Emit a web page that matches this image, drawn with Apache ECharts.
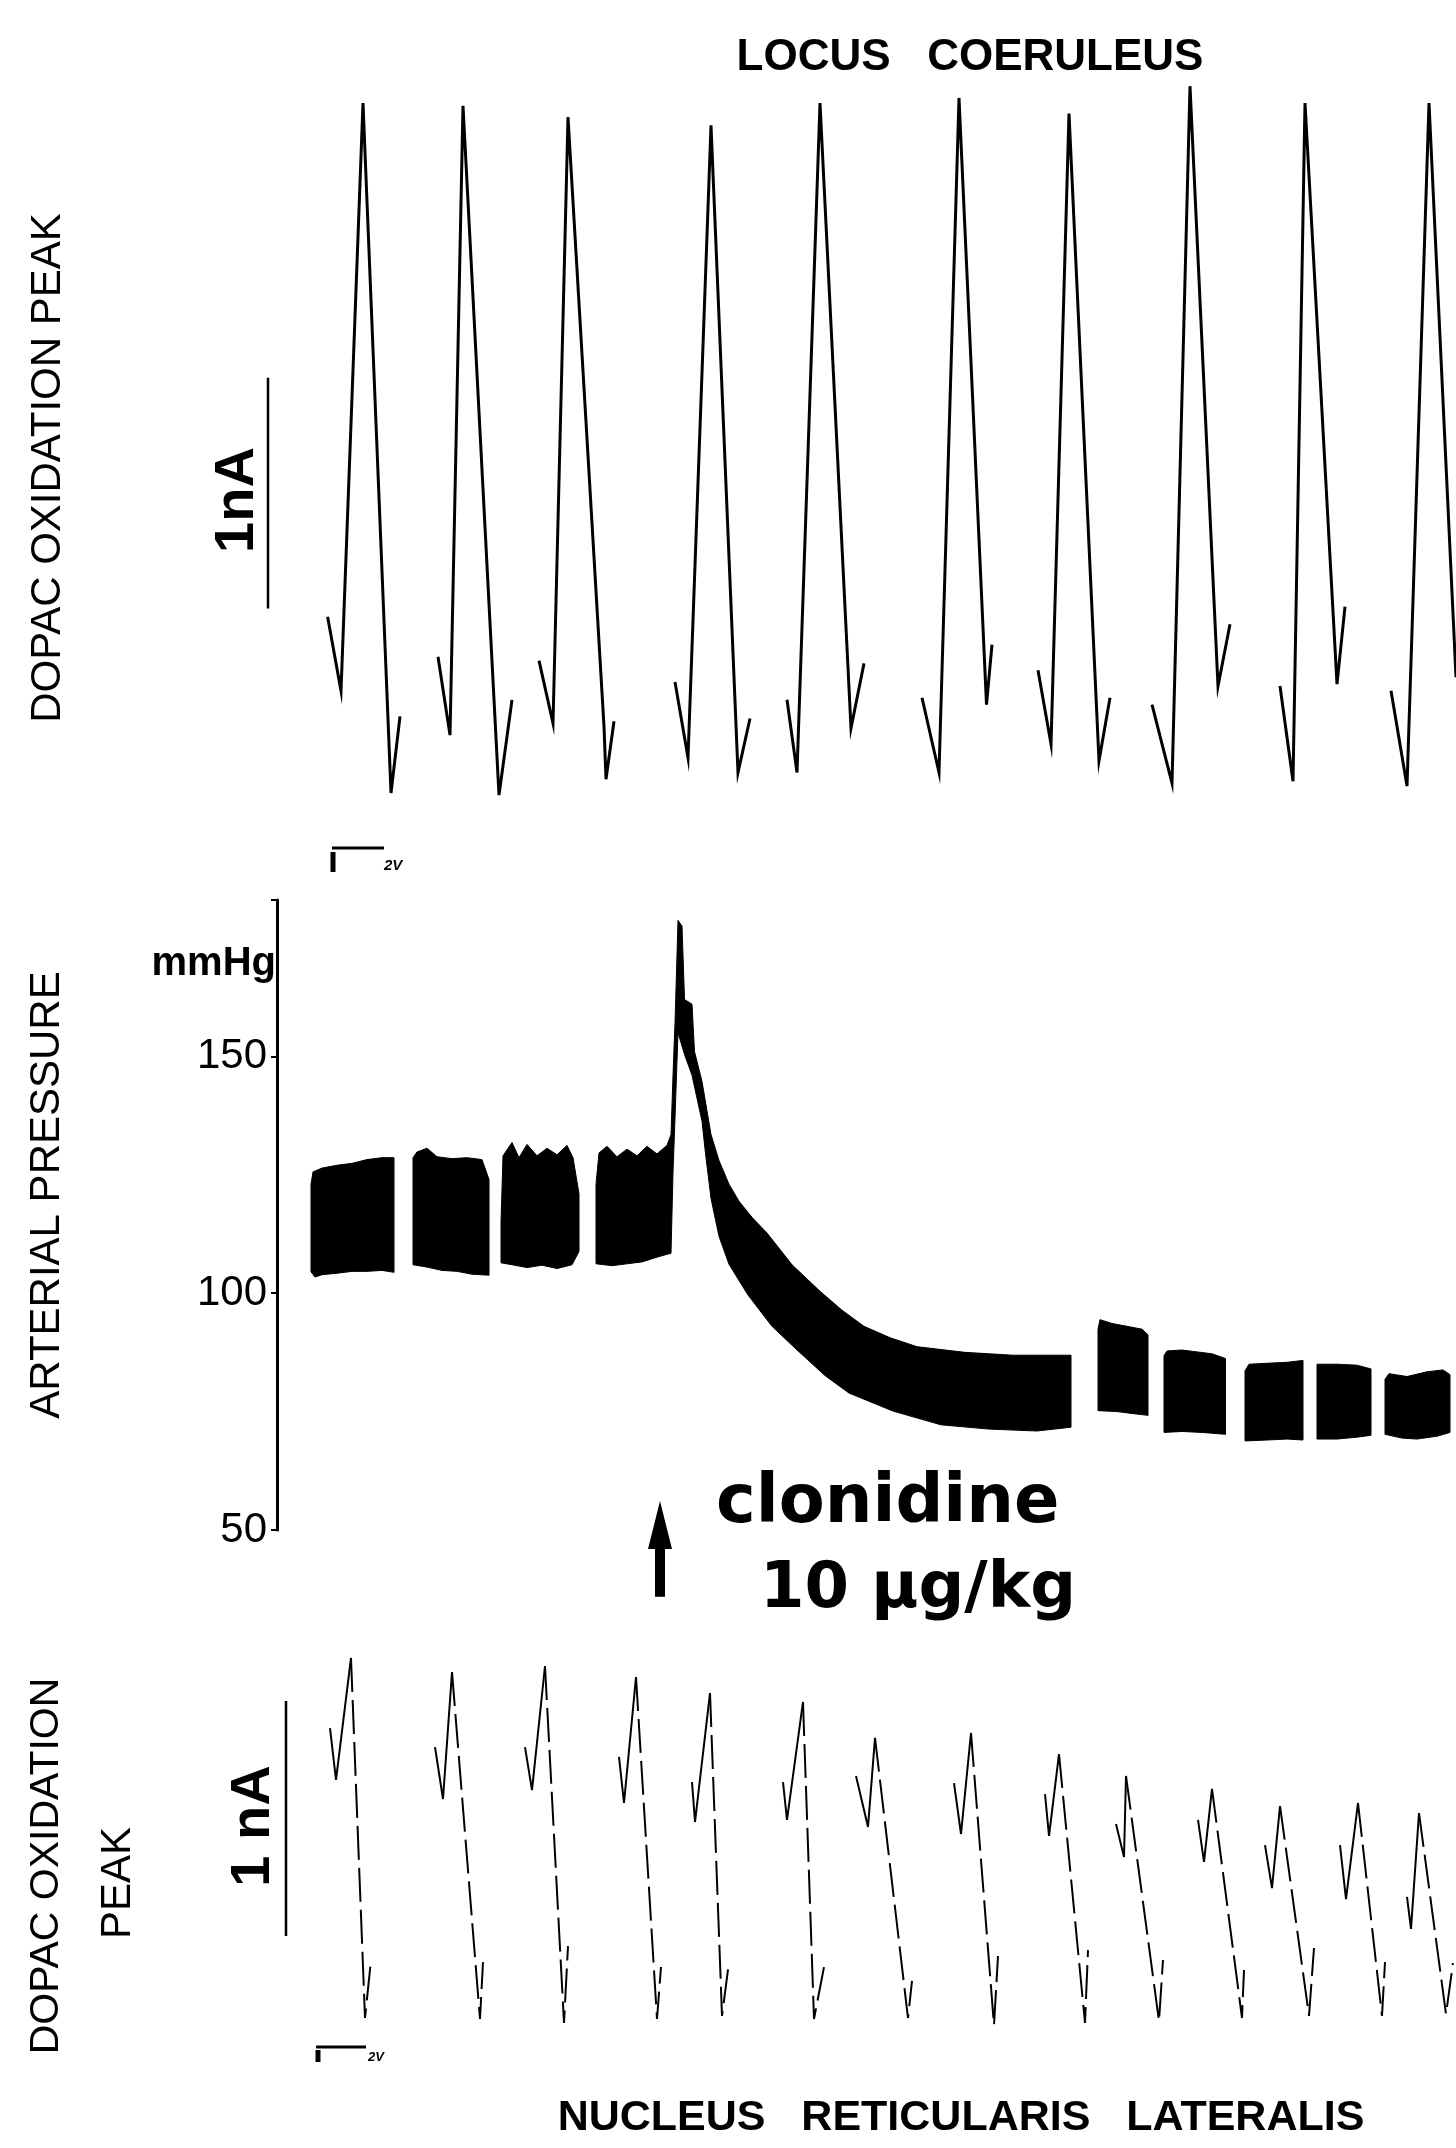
<!DOCTYPE html>
<html>
<head>
<meta charset="utf-8">
<script src="https://cdn.jsdelivr.net/npm/echarts@6/dist/echarts.min.js"></script>
<style>
html,body{margin:0;padding:0;background:#fff;}
#c{width:1456px;height:2148px;}
</style>
</head>
<body>
<div id="c"></div>
<script>
// ---------- Top: LOCUS COERULEUS voltammograms (x: sweep time, y: nA) ----------
const lcWave1  = [[12.76,0.764],[14.1,0.443],[16.3,2.991],[19.1,0.000],[20.0,0.332]];
const lcWave2  = [[23.8,0.591],[25.0,0.251],[26.3,2.979],[29.9,-0.009],[31.2,0.404]];
const lcWave3  = [[33.9,0.574],[35.3,0.302],[36.8,2.930],[40.4,0.289],[40.6,0.060],[41.4,0.311]];
const lcWave4  = [[47.5,0.481],[48.8,0.153],[51.1,2.894],[53.8,0.089],[55.0,0.323]];
const lcWave5  = [[58.7,0.404],[59.7,0.089],[62.0,2.991],[65.1,0.281],[66.4,0.562]];
const lcWave6  = [[72.2,0.413],[73.9,0.089],[75.9,3.013],[78.65,0.383],[79.2,0.643]];
const lcWave7  = [[83.8,0.532],[85.1,0.213],[86.9,2.945],[89.9,0.140],[91.0,0.413]];
const lcWave8  = [[95.2,0.383],[97.2,0.043],[99.0,3.064],[101.8,0.463],[103.0,0.732]];
const lcWave9  = [[108.0,0.464],[109.3,0.051],[110.5,2.991],[113.7,0.472],[114.5,0.808]];
const lcWave10 = [[119.1,0.443],[120.7,0.030],[122.9,2.991],[125.6,0.502]];
const lcScaleBar = [[6.8,0.80],[6.8,1.80]];   // 1 nA

// ---------- Middle: arterial pressure envelopes (x: time, y: mmHg) ----------
const apSeg1Top = [[3.4,123.0],[3.6,125.6],[4.5,126.4],[6.0,127.0],[7.5,127.4],[9.0,128.2],[10.5,128.6],[11.7,128.6]];
const apSeg1Bot = [[3.4,104.5],[3.8,103.4],[4.5,103.9],[6.0,104.2],[7.5,104.6],[9.0,104.6],[10.5,104.8],[11.7,104.4]];
const apSeg2Top = [[13.6,128.6],[14.0,129.8],[15.0,130.6],[16.0,128.8],[17.5,128.4],[19.0,128.6],[20.5,128.2],[21.2,124.0]];
const apSeg2Bot = [[13.6,106.0],[15.0,105.5],[16.5,104.8],[18.0,104.6],[19.5,104.0],[21.2,103.8]];
const apSeg3Top = [[22.4,115.0],[22.6,129.0],[23.5,131.8],[24.2,128.6],[25.0,131.4],[26.0,129.0],[27.0,130.6],[28.0,129.2],[29.0,131.2],[29.6,128.6],[30.2,121.0]];
const apSeg3Bot = [[22.4,106.4],[23.5,106.0],[25.0,105.4],[26.5,105.9],[28.0,105.2],[29.5,106.0],[30.2,108.8]];
const apSeg4Top = [[31.9,123.0],[32.2,129.6],[33.0,131.0],[34.0,128.8],[35.0,130.4],[36.0,129.0],[37.0,131.0],[38.0,129.4],[39.0,131.2],[39.4,133.5],[39.6,146.0],[39.8,157.0],[40.1,178.7],[40.5,177.5],[40.75,162.0],[41.5,161.0],[41.75,151.0],[42.5,144.7],[43.4,133.5],[44.2,128.0],[45.2,123.0],[46.2,119.4],[47.5,116.0],[49.0,112.7],[51.5,106.0],[54.3,100.4],[56.5,96.4],[58.7,93.0],[61.3,90.6],[64.0,88.7],[68.8,87.5],[73.6,86.9],[79.4,86.9]];
const apSeg4Bot = [[31.9,106.2],[33.5,105.8],[35.0,106.2],[36.5,106.6],[38.0,107.6],[39.0,108.2],[39.4,108.4],[39.6,125.5],[39.8,137.0],[40.1,155.0],[40.75,150.4],[41.5,146.0],[42.5,136.3],[42.85,129.5],[43.4,120.0],[44.2,112.0],[45.2,106.1],[47.1,99.6],[49.5,93.0],[51.9,88.2],[54.8,82.6],[57.2,78.9],[61.6,75.1],[66.4,72.2],[71.2,71.3],[76.0,70.9],[79.4,71.7]];
const apSeg5Top = [[82.1,92.4],[82.3,94.4],[83.5,93.6],[85.0,93.0],[86.5,92.4],[87.1,91.2]];
const apSeg5Bot = [[82.1,75.2],[84.0,75.0],[85.5,74.6],[87.1,74.2]];
const apSeg6Top = [[88.7,86.8],[89.0,87.8],[90.5,88.0],[92.0,87.6],[93.5,87.2],[94.85,86.2]];
const apSeg6Bot = [[88.7,70.6],[90.5,70.8],[92.5,70.6],[94.85,70.2]];
const apSeg7Top = [[96.8,83.6],[97.2,85.0],[99.0,85.2],[101.0,85.4],[102.6,85.8]];
const apSeg7Bot = [[96.8,68.8],[99.0,69.0],[101.0,69.2],[102.6,69.0]];
const apSeg8Top = [[104.0,85.0],[106.0,85.0],[108.0,84.8],[109.4,84.0]];
const apSeg8Bot = [[104.0,69.2],[106.0,69.2],[108.0,69.6],[109.4,70.0]];
const apSeg9Top = [[110.8,81.8],[111.2,83.0],[113.0,82.4],[115.0,83.4],[116.6,83.8],[117.3,82.8]];
const apSeg9Bot = [[110.8,70.2],[112.5,69.4],[114.0,69.2],[116.0,69.8],[117.3,70.6]];
const apTicks = [50, 100, 150];
const clonidineTime = 38.3;
const arrowTipValue = 56.1;
const arrowTailValue = 35.9;

// ---------- Bottom: NUCLEUS RETICULARIS LATERALIS voltammograms ----------
const nrlWave1  = [[13.0,1.285],[13.6,1.064],[15.1,1.583],[16.5,0.051],[17.1,0.298]];
const nrlWave2  = [[23.5,1.204],[24.3,0.983],[25.2,1.523],[28.0,0.047],[28.3,0.289]];
const nrlWave3  = [[32.5,1.204],[33.2,1.021],[34.5,1.549],[36.4,0.030],[36.8,0.357]];
const nrlWave4  = [[41.9,1.162],[42.4,0.966],[43.6,1.502],[45.7,0.047],[46.1,0.268]];
const nrlWave5  = [[49.2,1.055],[49.5,0.885],[51.0,1.434],[52.2,0.060],[52.9,0.289]];
const nrlWave6  = [[58.3,1.055],[58.7,0.894],[60.3,1.396],[61.4,0.047],[62.4,0.268]];
const nrlWave7  = [[65.6,1.081],[66.8,0.864],[67.5,1.243],[70.8,0.051],[71.2,0.209]];
const nrlWave8  = [[75.4,1.051],[76.1,0.834],[77.1,1.264],[79.4,0.021],[79.8,0.315]];
const nrlWave9  = [[84.5,1.004],[84.9,0.826],[85.9,1.174],[88.5,0.030],[88.8,0.340]];
const nrlWave10 = [[91.6,0.877],[92.4,0.736],[92.6,1.081],[95.9,0.038],[96.3,0.298]];
const nrlWave11 = [[99.8,0.894],[100.4,0.715],[101.2,1.026],[104.2,0.051],[104.4,0.255]];
const nrlWave12 = [[106.5,0.787],[107.2,0.604],[108.0,0.953],[110.9,0.060],[111.4,0.349]];
const nrlWave13 = [[114.0,0.787],[114.6,0.557],[115.8,0.966],[118.2,0.060],[118.5,0.289]];
const nrlWave14 = [[120.7,0.566],[121.1,0.430],[121.9,0.923],[124.6,0.068],[125.3,0.285]];
const nrlScaleBar = [[8.6,0.40],[8.6,1.40]];   // 1 nA

// ---------- build ----------
const FONT = '"Liberation Sans", Arial, sans-serif';
const lcWaves = [lcWave1,lcWave2,lcWave3,lcWave4,lcWave5,lcWave6,lcWave7,lcWave8,lcWave9,lcWave10];
const nrlWaves = [nrlWave1,nrlWave2,nrlWave3,nrlWave4,nrlWave5,nrlWave6,nrlWave7,nrlWave8,nrlWave9,nrlWave10,nrlWave11,nrlWave12,nrlWave13,nrlWave14];
const apSegments = [
  {top:apSeg1Top,bot:apSeg1Bot},{top:apSeg2Top,bot:apSeg2Bot},{top:apSeg3Top,bot:apSeg3Bot},
  {top:apSeg4Top,bot:apSeg4Bot},{top:apSeg5Top,bot:apSeg5Bot},{top:apSeg6Top,bot:apSeg6Bot},
  {top:apSeg7Top,bot:apSeg7Bot},{top:apSeg8Top,bot:apSeg8Bot},{top:apSeg9Top,bot:apSeg9Bot}
];

const series = [];
lcWaves.forEach(w => series.push({
  type:'line', xAxisIndex:0, yAxisIndex:0, data:w, showSymbol:false, silent:true,
  lineStyle:{color:'#000', width:3, join:'miter'}
}));
series.push({type:'line', xAxisIndex:0, yAxisIndex:0, data:lcScaleBar, showSymbol:false, silent:true,
  lineStyle:{color:'#000', width:2.5}});

series.push({
  type:'custom', xAxisIndex:1, yAxisIndex:1, silent:true,
  data: apSegments.map(s => [s.top[0][0], s.top[0][1]]),
  encode:{x:0, y:1},
  renderItem:(params, api) => {
    const s = apSegments[params.dataIndex];
    const pts = s.top.map(p => api.coord(p)).concat(s.bot.slice().reverse().map(p => api.coord(p)));
    return {type:'polygon', shape:{points:pts}, style:{fill:'#000', stroke:'#000', lineWidth:1}};
  }
});

nrlWaves.forEach(w => {
  series.push({type:'line', xAxisIndex:2, yAxisIndex:2, data:w.slice(0,3), showSymbol:false, silent:true,
    lineStyle:{color:'#000', width:2}});
  series.push({type:'line', xAxisIndex:2, yAxisIndex:2, data:w.slice(2), showSymbol:false, silent:true,
    lineStyle:{color:'#000', width:2, type:[34,8]}});
});
series.push({type:'line', xAxisIndex:2, yAxisIndex:2, data:nrlScaleBar, showSymbol:false, silent:true,
  lineStyle:{color:'#000', width:2.5}});

const option = {
  animation:false,
  backgroundColor:'#ffffff',
  grid:[
    {left:200, right:0, top:54.8, height:761.3},
    {left:277, right:0, top:900, height:630},
    {left:200, right:0, top:1607, height:446.5}
  ],
  xAxis:[
    {gridIndex:0, type:'value', min:0, max:125.6, show:false},
    {gridIndex:1, type:'value', min:0, max:117.9, show:false},
    {gridIndex:2, type:'value', min:0, max:125.6, show:false}
  ],
  yAxis:[
    {gridIndex:0, type:'value', min:-0.1, max:3.2, show:false},
    {gridIndex:1, type:'value', min:50, max:183, interval:50,
      axisLine:{show:true, lineStyle:{color:'#000', width:3}},
      axisTick:{show:true, length:6, lineStyle:{color:'#000', width:2}},
      axisLabel:{color:'#000', fontSize:42, fontFamily:FONT, margin:10,
        formatter: v => apTicks.indexOf(v) >= 0 ? String(v) : ''},
      splitLine:{show:false}},
    {gridIndex:2, type:'value', min:-0.1, max:1.8, show:false}
  ],
  series: series
};

const chart = echarts.init(document.getElementById('c'), null, {renderer:'canvas'});
chart.setOption(option);

function txt(x, y, text, font, opts) {
  opts = opts || {};
  return {type:'text', x:x, y:y, rotation:opts.rot || 0, silent:true,
    style:{text:text, font:font, fill:'#000', align:opts.align || 'center', verticalAlign:'middle',
           textAlign:opts.align || 'center', textVerticalAlign:'middle'}};
}
const R = Math.PI / 2;
const tip = chart.convertToPixel({xAxisIndex:1, yAxisIndex:1}, [clonidineTime, arrowTipValue]);
const tail = chart.convertToPixel({xAxisIndex:1, yAxisIndex:1}, [clonidineTime, arrowTailValue]);

const graphics = [
  txt(970, 58, 'LOCUS   COERULEUS', 'bold 44px ' + FONT),
  txt(48, 468, 'DOPAC OXIDATION PEAK', '42px ' + FONT, {rot:R}),
  txt(238, 500, '1nA', 'bold 56px ' + FONT, {rot:R}),
  txt(47, 1195, 'ARTERIAL PRESSURE', '42px ' + FONT, {rot:R}),
  txt(276, 964, 'mmHg', 'bold 40px ' + FONT, {align:'right'}),
  txt(716, 1505, 'clonidine', 'bold 67px "DejaVu Sans", sans-serif', {align:'left'}),
  txt(760, 1590, '10 μg/kg', 'bold 64px "DejaVu Sans", sans-serif', {align:'left'}),
  txt(47, 1866, 'DOPAC OXIDATION', '41px ' + FONT, {rot:R}),
  txt(118, 1883, 'PEAK', '42px ' + FONT, {rot:R}),
  txt(254, 1826, '1 nA', 'bold 56px ' + FONT, {rot:R}),
  txt(961, 2118, 'NUCLEUS   RETICULARIS   LATERALIS', 'bold 43px ' + FONT),
  // 2V scale bars
  {type:'line', silent:true, shape:{x1:332,y1:848,x2:384,y2:848}, style:{stroke:'#000', lineWidth:3}},
  {type:'line', silent:true, shape:{x1:333,y1:852,x2:333,y2:872}, style:{stroke:'#000', lineWidth:5}},
  txt(384, 866, '2V', 'italic bold 15px ' + FONT, {align:'left'}),
  {type:'line', silent:true, shape:{x1:316,y1:2047,x2:366,y2:2047}, style:{stroke:'#000', lineWidth:3}},
  {type:'line', silent:true, shape:{x1:318,y1:2050,x2:318,y2:2062}, style:{stroke:'#000', lineWidth:5}},
  txt(368, 2057, '2V', 'italic bold 13px ' + FONT, {align:'left'}),
  // clonidine arrow
  {type:'polygon', silent:true, shape:{points:[[tip[0],tip[1]],[tip[0]-12,tip[1]+48],[tip[0]+12,tip[1]+48]]}, style:{fill:'#000'}},
  {type:'rect', silent:true, shape:{x:tip[0]-5, y:tip[1]+40, width:10, height:tail[1]-tip[1]-40}, style:{fill:'#000'}}
];
chart.setOption({graphic: graphics});
</script>
</body>
</html>
